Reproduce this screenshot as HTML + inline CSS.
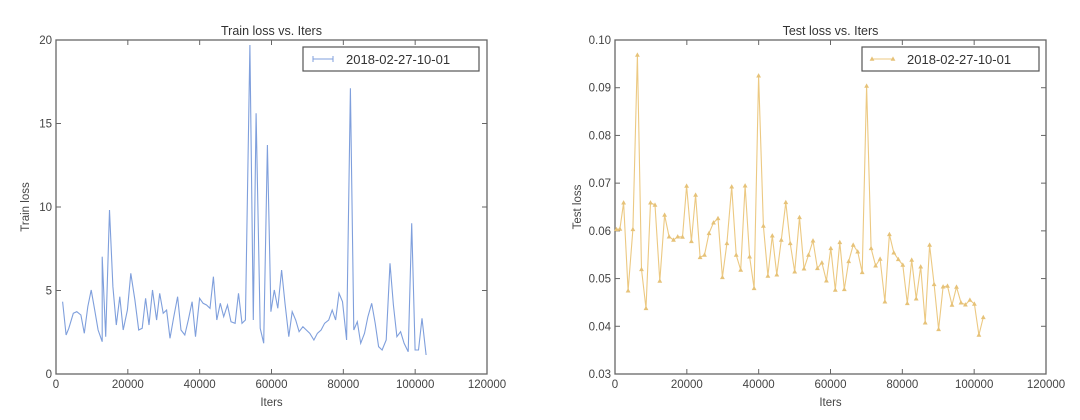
<!DOCTYPE html>
<html><head><meta charset="utf-8">
<style>
html,body{margin:0;padding:0;background:#fff;overflow:hidden;}
svg{display:block;font-family:"Liberation Sans","DejaVu Sans",sans-serif;}
</style></head>
<body>
<svg id="s" width="1080" height="420" viewBox="0 0 1080 420" xmlns="http://www.w3.org/2000/svg"></svg>
<script>
const S=document.getElementById('s');let h='';
const sx=0.3442;
function axes(x0,x1,y0,y1,yt,title,ylab,ylx){
  h+=`<rect x="${x0}" y="${y0}" width="${x1-x0}" height="${y1-y0}" fill="none" stroke="#666" stroke-width="1.3"/>`;
  for(let i=0;i<=6;i++){let x=x0+(x1-x0)*i/6;
    h+=`<line x1="${x}" y1="${y1}" x2="${x}" y2="${y1-5}" stroke="#666"/><line x1="${x}" y1="${y0}" x2="${x}" y2="${y0+5}" stroke="#666"/>`;
    h+=`<text x="${x}" y="${y1+14}" font-size="11.5" fill="#444" text-anchor="middle">${i*20000}</text>`;}
  const n=yt.length-1;
  for(let i=0;i<=n;i++){let y=y1-(y1-y0)*i/n;
    h+=`<line x1="${x0}" y1="${y}" x2="${x0+5}" y2="${y}" stroke="#666"/><line x1="${x1}" y1="${y}" x2="${x1-5}" y2="${y}" stroke="#666"/>`;
    h+=`<text x="${x0-4}" y="${y+4}" font-size="11.5" fill="#444" text-anchor="end">${yt[i]}</text>`;}
  h+=`<text x="${(x0+x1)/2}" y="35" font-size="12.5" fill="#333" text-anchor="middle">${title}</text>`;
  h+=`<text x="${(x0+x1)/2}" y="406" font-size="11.5" fill="#444" text-anchor="middle">Iters</text>`;
  h+=`<text transform="translate(${ylx},${(y0+y1)/2}) rotate(-90)" font-size="11.5" fill="#444" text-anchor="middle">${ylab}</text>`;
}
axes(56,487,40,374,[0,5,10,15,20],'Train loss  vs. Iters','Train loss',29);
axes(615,1046,40,374,['0.03','0.04','0.05','0.06','0.07','0.08','0.09','0.10'],'Test loss  vs. Iters','Test loss',581);
const tr=[[182,905],[192,1005],[200,985],[213,940],[223,935],[235,945],[245,1000],[255,920],[265,870],[275,930],[285,990],[297,1025],[297,770],[307,1010],[318,630],[328,860],[338,975],[348,890],[358,990],[370,930],[380,820],[392,900],[403,990],[413,985],[423,895],[433,975],[443,870],[455,960],[464,880],[474,940],[484,930],[494,1015],[504,955],[516,890],[526,990],[537,1005],[547,960],[558,905],[568,1010],[580,895],[590,910],[600,915],[610,925],[620,830],[630,960],[640,910],[650,950],[661,915],[671,965],[683,970],[693,880],[703,970],[713,960],[726,135],[736,960],[744,340],[756,985],[766,1030],[777,435],[787,935],[797,870],[807,925],[818,810],[828,910],[839,1010],[849,935],[859,960],[869,995],[880,980],[890,990],[900,1000],[912,1020],[922,1000],[933,990],[943,970],[955,960],[965,930],[975,960],[985,880],[995,905],[1007,1020],[1018,265],[1028,990],[1038,965],[1048,1030],[1059,1000],[1069,950],[1080,910],[1090,970],[1100,1040],[1110,1050],[1122,1020],[1133,790],[1143,915],[1153,1010],[1164,995],[1174,1030],[1186,1055],[1196,670],[1206,1050],[1216,1050],[1226,955],[1238,1065]];
h+=`<polyline fill="none" stroke="#7f9fdc" stroke-width="1.1" points="${tr.map(p=>(p[0]*sx).toFixed(1)+','+(p[1]/3).toFixed(1)).join(' ')}"/>`;
const te=[[222,688],[232,687],[243,608],[256,872],[270,688],[283,165],[295,808],[308,925],[321,608],[334,615],[348,843],[362,645],[375,710],[388,720],[400,710],[414,711],[426,558],[440,724],[452,585],[465,772],[478,765],[491,700],[504,668],[517,655],[530,832],[543,730],[557,560],[570,765],[583,810],[596,557],[609,770],[622,865],[635,227],[649,678],[662,828],[675,707],[688,824],[701,720],[714,607],[727,730],[740,815],[754,652],[767,806],[780,765],[793,722],[806,805],[819,788],[832,842],[845,745],[858,870],[871,727],[884,868],[897,784],[910,735],[923,755],[936,817],[949,258],[962,745],[975,797],[988,777],[1002,905],[1015,703],[1028,758],[1041,778],[1054,795],[1067,910],[1080,780],[1093,896],[1106,800],[1119,968],[1132,735],[1145,853],[1158,988],[1171,860],[1184,858],[1197,915],[1210,861],[1223,908],[1236,914],[1249,900],[1262,912],[1275,1005],[1288,952]];
const tp=te.map(p=>[540+p[0]*sx,p[1]/3]);
h+=`<polyline fill="none" stroke="#ecc982" stroke-width="1.1" points="${tp.map(p=>p[0].toFixed(1)+','+p[1].toFixed(1)).join(' ')}"/>`;
function tri(x,y){x=+x;y=+y;return `<polygon points="${x.toFixed(1)},${(y-2.6).toFixed(1)} ${(x-2.4).toFixed(1)},${(y+1.8).toFixed(1)} ${(x+2.4).toFixed(1)},${(y+1.8).toFixed(1)}" fill="#e6c278"/>`;}
tp.forEach(p=>h+=tri(p[0],p[1]));
h+=`<rect x="303" y="47" width="176" height="24" fill="#fff" stroke="#555" stroke-width="1.2"/>`;
h+=`<line x1="313" y1="59" x2="333" y2="59" stroke="#7f9fdc"/><line x1="313" y1="56" x2="313" y2="62" stroke="#7f9fdc"/><line x1="333" y1="56" x2="333" y2="62" stroke="#7f9fdc"/>`;
h+=`<text x="346" y="64" font-size="13" fill="#333">2018-02-27-10-01</text>`;
h+=`<rect x="862" y="47" width="177" height="24" fill="#fff" stroke="#555" stroke-width="1.2"/>`;
h+=`<line x1="872" y1="59" x2="893" y2="59" stroke="#ecc982"/>`+tri(872,59)+tri(893,59);
h+=`<text x="907" y="64" font-size="13" fill="#333">2018-02-27-10-01</text>`;
S.innerHTML=h;
</script>
</body></html>
